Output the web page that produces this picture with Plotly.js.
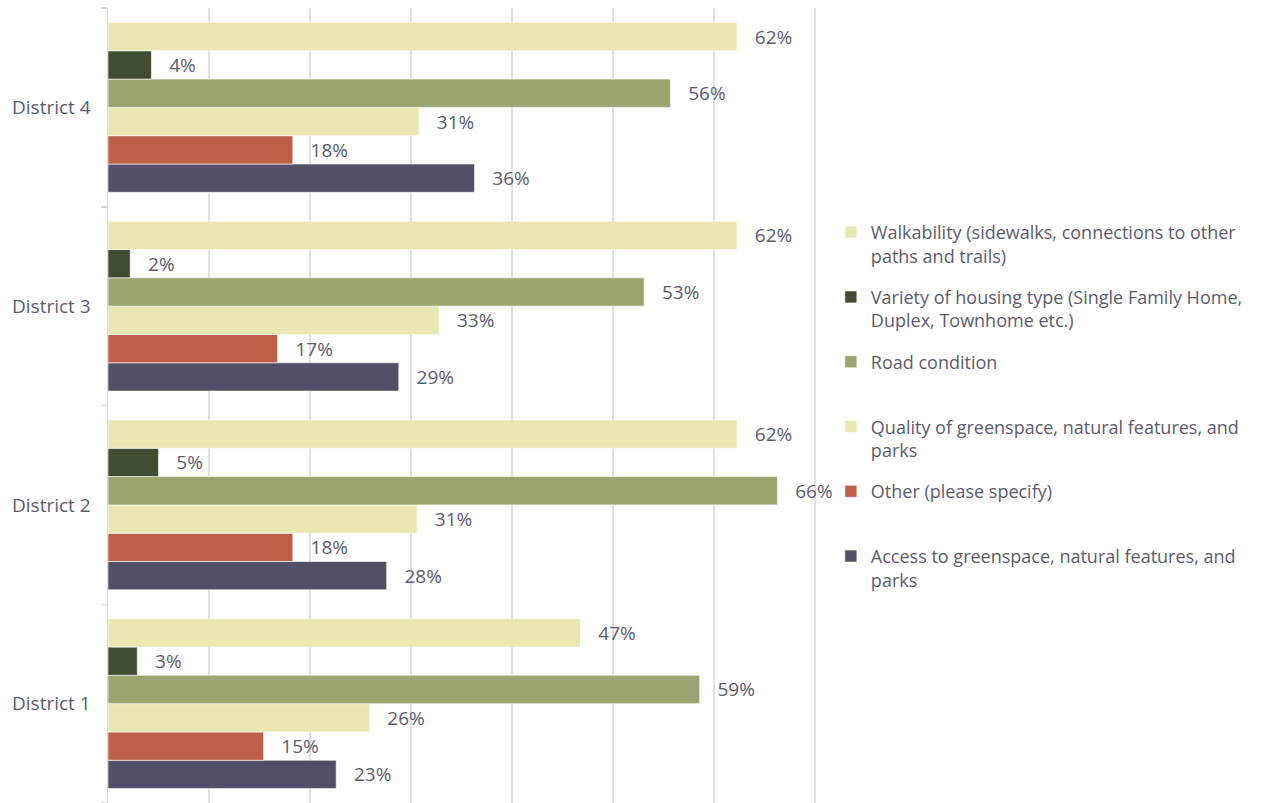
<!DOCTYPE html>
<html>
<head>
<meta charset="utf-8">
<script src="https://cdn.plot.ly/plotly-3.0.1.min.js"></script>
<style>html,body{margin:0;padding:0;background:#fff;}#chart{width:1271px;height:803px;}</style>
</head>
<body>
<div id="chart"></div>
<script>
// Categories (bottom to top)
const districts = ['District 1', 'District 2', 'District 3', 'District 4'];

// Series values (share of respondents), order: District 1..4
const walkability = [0.468, 0.623, 0.623, 0.623];
const housingVariety = [0.029, 0.050, 0.022, 0.043];
const roadCondition = [0.586, 0.663, 0.531, 0.557];
const greenspaceQuality = [0.259, 0.306, 0.328, 0.308];
const other = [0.154, 0.183, 0.168, 0.183];
const greenspaceAccess = [0.226, 0.276, 0.288, 0.363];

const seriesNames = [
  'Access to greenspace, natural features, and<br>parks',
  'Other (please specify)<br> ',
  'Quality of greenspace, natural features, and<br>parks',
  'Road condition<br> ',
  'Variety of housing type (Single Family Home,<br>Duplex, Townhome etc.)',
  'Walkability (sidewalks, connections to other<br>paths and trails)'
];
const seriesValues = [greenspaceAccess, other, greenspaceQuality, roadCondition, housingVariety, walkability];
const seriesColors = ['#515068', '#BE6047', '#EAE8B0', '#9AA56F', '#404D31', '#EAE8B0'];

const textColor = '#5c5c70';
const fontFamily = '"Open Sans", "Noto Sans", sans-serif';

const traces = seriesNames.map((name, i) => ({
  type: 'bar',
  orientation: 'h',
  name: name,
  y: districts,
  x: seriesValues[i],
  legendgroup: 'g' + i,
  legendrank: (seriesNames.length - i) * 10,
  marker: { color: seriesColors[i], line: { color: '#ffffff', width: 0.6 } },
  texttemplate: '\u00a0\u00a0\u00a0%{x:.0%}',
  textposition: 'outside',
  cliponaxis: false,
  textfont: { family: fontFamily, size: 19, color: textColor },
  hoverinfo: 'x+name'
}));

const layout = {
  width: 1271,
  height: 803,
  margin: { l: 108, r: 455, t: 8, b: 0 },
  paper_bgcolor: '#ffffff',
  plot_bgcolor: '#ffffff',
  barmode: 'group',
  bargap: 0.145,
  bargroupgap: 0,
  font: { family: fontFamily, color: textColor, size: 19 },
  xaxis: {
    range: [0, 0.7012],
    dtick: 0.1,
    showticklabels: false,
    showgrid: true,
    gridcolor: '#dfdfe6',
    gridwidth: 1.5,
    zeroline: false,
    showline: false,
    fixedrange: true
  },
  yaxis: {
    type: 'category',
    showline: true,
    linecolor: '#d9d9d9',
    linewidth: 1.5,
    ticks: 'outside',
    tickson: 'boundaries',
    ticklen: 6,
    tickcolor: '#d9d9d9',
    tickwidth: 1.5,
    ticklabelstandoff: 12,
    tickfont: { family: fontFamily, size: 19, color: textColor },
    showgrid: false,
    zeroline: false,
    fixedrange: true
  },
  showlegend: true,
  legend: {
    traceorder: 'grouped',
    x: 1.021,
    xanchor: 'left',
    y: 0.741,
    yanchor: 'top',
    valign: 'top',
    tracegroupgap: 15,
    font: { family: fontFamily, size: 18, color: textColor },
    bgcolor: 'rgba(0,0,0,0)'
  }
};

Plotly.newPlot('chart', traces, layout, { displayModeBar: false, staticPlot: true });
</script>
</body>
</html>
